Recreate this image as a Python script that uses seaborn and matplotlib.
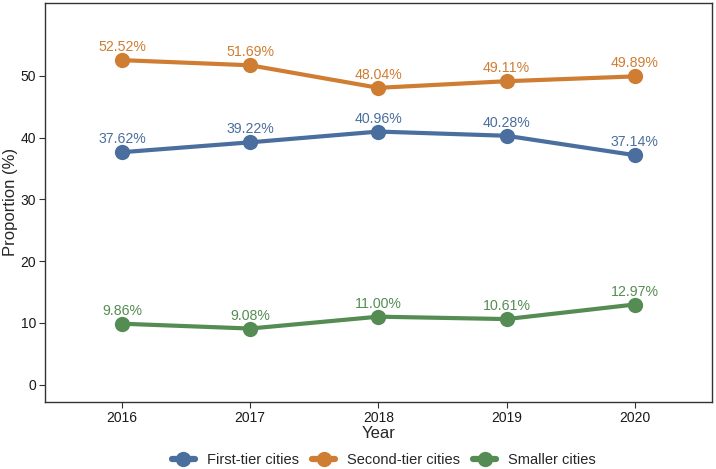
import pandas as pd
import matplotlib.pyplot as plt
import seaborn as sns

years = [2016, 2017, 2018, 2019, 2020]
first_tier = [37.62, 39.22, 40.96, 40.28, 37.14]
second_tier = [52.52, 51.69, 48.04, 49.11, 49.89]
smaller = [9.86, 9.08, 11.00, 10.61, 12.97]
groups = ["First-tier cities", "Second-tier cities", "Smaller cities"]
colors = ["#4A6E9E", "#CF7D33", "#558C53"]

df = pd.DataFrame({
    "Year": years * 3,
    "Proportion": first_tier + second_tier + smaller,
    "Group": [g for g in groups for _ in years],
})

sns.set_style("white")
plt.rcParams['font.family'] = ['Liberation Sans', 'DejaVu Sans']

fig = plt.figure(figsize=(7.16, 4.69), dpi=100)
ax = fig.add_axes([0.063, 0.143, 0.931, 0.851])

palette = dict(zip(groups, colors))
sns.lineplot(data=df, x="Year", y="Proportion", hue="Group", hue_order=groups,
             palette=palette, marker="o", markersize=11, markeredgewidth=0,
             linewidth=3, ax=ax)

# value labels above each point
for _, row in df.iterrows():
    ax.annotate(f"{row['Proportion']:.2f}%", (row["Year"], row["Proportion"]),
                xytext=(0, 13), textcoords="offset pixels", ha="center", va="center",
                fontsize=10.2, color=palette[row["Group"]])

ax.set_xlim(2015.4, 2020.6)
ax.set_ylim(-2.8, 61.8)
ax.set_xticks(years)
ax.set_yticks([0, 10, 20, 30, 40, 50])
ax.set_xlabel("Year", fontsize=12, labelpad=1)
ax.set_ylabel("Proportion (%)", fontsize=12)
ax.yaxis.set_label_coords(-0.041, 0.5)
ax.tick_params(axis="both", labelsize=10, length=4, width=0.8, color="#333333",
               labelcolor="#1a1a1a", direction="out", bottom=True, left=True, pad=2.5)
for s in ax.spines.values():
    s.set_color("#333333")
    s.set_linewidth(1)

handles, labels = ax.get_legend_handles_labels()
for h in handles:
    h.set_linewidth(4.5)
ax.legend(handles, labels, loc="center", bbox_to_anchor=(0.536, 0.019),
          bbox_transform=fig.transFigure, ncol=3, frameon=False, fontsize=10.5,
          handlelength=1.6, columnspacing=0.9, handletextpad=0.8)

fig.savefig("out.png", dpi=100)
